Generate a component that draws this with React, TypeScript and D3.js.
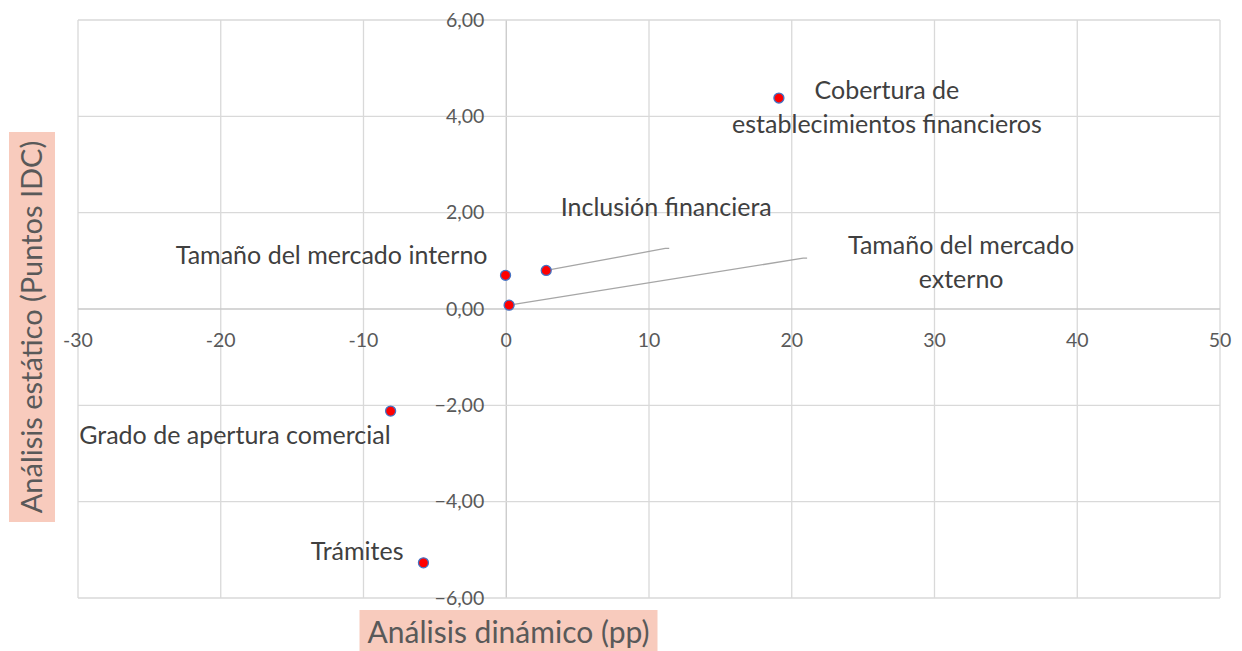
import * as d3 from "d3";
import { useEffect, useRef } from "react";

// indicators: dynamic analysis (pp) vs static analysis (IDC points)
const names = [
  "Cobertura de establecimientos financieros",
  "Inclusión financiera",
  "Tamaño del mercado interno",
  "Tamaño del mercado externo",
  "Grado de apertura comercial",
  "Trámites",
];
const dynamicPP = [19.1, 2.8, -0.05, 0.2, -8.1, -5.8];
const staticIDC = [4.38, 0.8, 0.7, 0.08, -2.12, -5.27];

const xTicks = [-30, -20, -10, 0, 10, 20, 30, 40, 50];
const yTicks = [-6, -4, -2, 0, 2, 4, 6];

// label layout (pixel offsets from the point, text lines, anchor)
const labelLayout = [
  { lines: ["Cobertura de", "establecimientos financieros"], dx: 108, dy: 1, anchor: "middle", leader: null },
  { lines: ["Inclusión financiera"], dx: 120, dy: -54, anchor: "middle", leader: [119, -22] },
  { lines: ["Tamaño del mercado interno"], dx: -18, dy: -11, anchor: "end", leader: null },
  { lines: ["Tamaño del mercado", "externo"], dx: 452, dy: -51, anchor: "middle", leader: [294, -47] },
  { lines: ["Grado de apertura comercial"], dx: 0, dy: 33, anchor: "end", leader: null },
  { lines: ["Trámites"], dx: -20, dy: -3, anchor: "end", leader: null },
];

const App = () => {
  const ref = useRef<SVGSVGElement | null>(null);

  useEffect(() => {
    const svg = d3.select(ref.current);
    svg.selectAll("*").remove();

    const width = 1242;
    const height = 651;
    const margin = { top: 20, right: 22, bottom: 53, left: 78 };
    const font = "Lato, 'Open Sans', sans-serif";

    const x = d3.scaleLinear().domain([-30, 50]).range([margin.left, width - margin.right]);
    const y = d3.scaleLinear().domain([-6, 6]).range([height - margin.bottom, margin.top]);

    svg.append("rect").attr("width", width).attr("height", height).attr("fill", "#fff");

    // gridlines
    const grid = svg.append("g");
    grid
      .selectAll("line.v")
      .data(xTicks)
      .enter()
      .append("line")
      .attr("x1", (d) => x(d))
      .attr("x2", (d) => x(d))
      .attr("y1", y(6))
      .attr("y2", y(-6))
      .attr("stroke", (d) => (d === 0 ? "#c8c8c8" : "#d9d9d9"))
      .attr("stroke-width", 1.3);
    grid
      .selectAll("line.h")
      .data(yTicks)
      .enter()
      .append("line")
      .attr("x1", x(-30))
      .attr("x2", x(50))
      .attr("y1", (d) => y(d))
      .attr("y2", (d) => y(d))
      .attr("stroke", (d) => (d === 0 ? "#c8c8c8" : "#d9d9d9"))
      .attr("stroke-width", 1.3);

    // tick labels
    svg
      .append("g")
      .selectAll("text")
      .data(xTicks)
      .enter()
      .append("text")
      .attr("x", (d) => x(d))
      .attr("y", y(0) + 38)
      .attr("text-anchor", "middle")
      .style("font-family", font)
      .style("font-size", "19.5px")
      .style("fill", "#595959")
      .text((d) => `${d}`);

    svg
      .append("g")
      .selectAll("text")
      .data(yTicks)
      .enter()
      .append("text")
      .attr("x", x(0) - 22)
      .attr("y", (d) => y(d))
      .attr("dy", "0.35em")
      .attr("text-anchor", "end")
      .style("font-family", font)
      .style("font-size", "19.5px")
      .style("fill", "#595959")
      .text((d) => d3.format(".2f")(d).replace(".", ","));

    // leader lines
    const pts = names.map((n, i) => ({ name: n, px: x(dynamicPP[i]), py: y(staticIDC[i]), layout: labelLayout[i] }));
    svg
      .append("g")
      .selectAll("path")
      .data(pts.filter((p) => p.layout.leader))
      .enter()
      .append("path")
      .attr("d", (p) => {
        const [lx, ly] = p.layout.leader as number[];
        return `M${p.px},${p.py}L${p.px + lx},${p.py + ly}l4,0`;
      })
      .attr("fill", "none")
      .attr("stroke", "#a6a6a6")
      .attr("stroke-width", 1.3);

    // points
    svg
      .append("g")
      .selectAll("circle")
      .data(pts)
      .enter()
      .append("circle")
      .attr("cx", (p) => p.px)
      .attr("cy", (p) => p.py)
      .attr("r", 5)
      .attr("fill", "#ff0000")
      .attr("stroke", "#4472c4")
      .attr("stroke-width", 1.3);

    // point labels
    const lbl = svg
      .append("g")
      .selectAll("text")
      .data(pts)
      .enter()
      .append("text")
      .attr("text-anchor", (p) => p.layout.anchor)
      .style("font-family", font)
      .style("font-size", "25px")
      .style("fill", "#404040");
    lbl
      .selectAll("tspan")
      .data((p) => p.layout.lines.map((l) => ({ l, p })))
      .enter()
      .append("tspan")
      .attr("x", (d) => d.p.px + d.p.layout.dx)
      .attr("y", (d, j) => d.p.py + d.p.layout.dy + j * 34)
      .text((d) => d.l);

    // axis titles
    const yTitle = svg.append("g").attr("transform", `translate(32, ${(132 + 522) / 2}) rotate(-90)`);
    yTitle.append("rect").attr("x", -195).attr("y", -23).attr("width", 390).attr("height", 46).attr("fill", "#f8cbbd");
    yTitle
      .append("text")
      .attr("text-anchor", "middle")
      .attr("dy", "0.35em")
      .style("font-family", font)
      .style("font-size", "29px")
      .style("fill", "#595959")
      .text("Análisis estático (Puntos IDC)");

    const xTitle = svg.append("g").attr("transform", `translate(${(360 + 657) / 2}, 632)`);
    xTitle.append("rect").attr("x", -149).attr("y", -22).attr("width", 298).attr("height", 44).attr("fill", "#f8cbbd");
    xTitle
      .append("text")
      .attr("text-anchor", "middle")
      .attr("dy", "0.35em")
      .style("font-family", font)
      .style("font-size", "30px")
      .style("fill", "#595959")
      .text("Análisis dinámico (pp)");
  }, []);

  return <svg ref={ref} width={1242} height={651} style={{ position: "absolute", left: 0, top: 0 }}></svg>;
};

export default App;
